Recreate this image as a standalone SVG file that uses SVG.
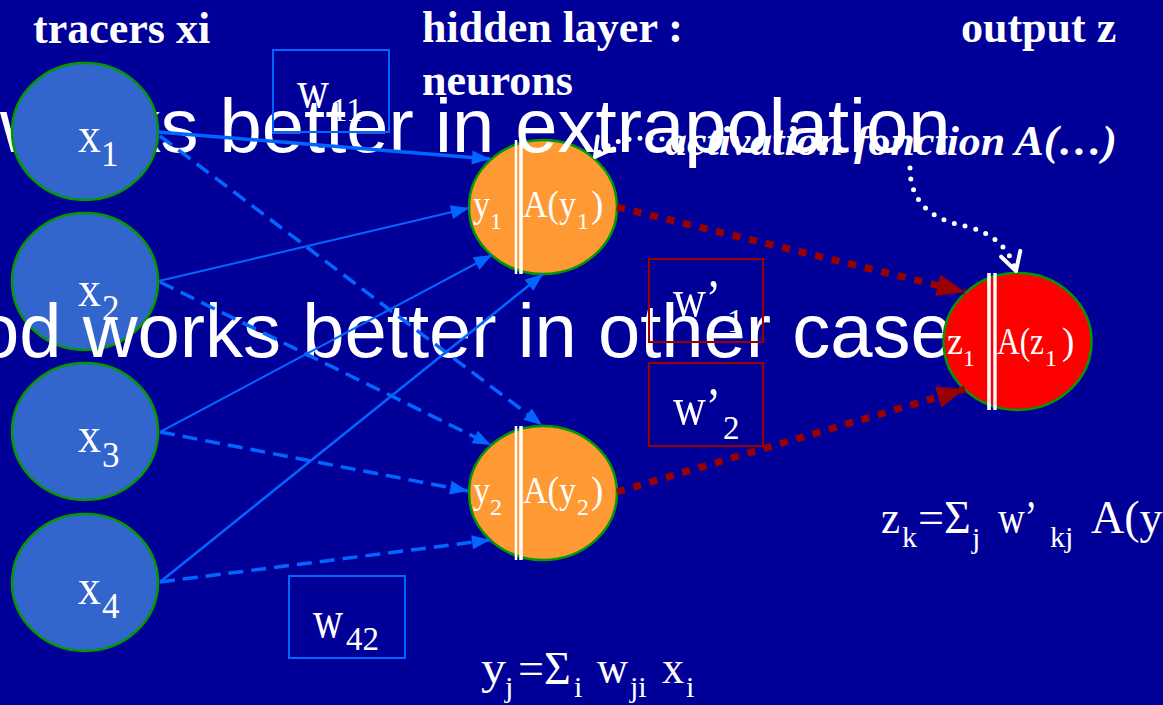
<svg xmlns="http://www.w3.org/2000/svg" width="1163" height="705" viewBox="0 0 1163 705">
<style>
.in{fill:#3366CC;stroke:#009900;stroke-width:2.5}
.hid{fill:#FF9933;stroke:#009900;stroke-width:2.5}
.out{fill:#FF0000;stroke:#009900;stroke-width:2.5}
.dbl{stroke:#FFFFFF;fill:none}
.serif{font-family:"Liberation Serif","Times New Roman",serif;fill:#FFFFFF}
.hdr{font-family:"Liberation Serif","Times New Roman",serif;font-weight:bold;font-size:44px;fill:#FFFFFF}
.big{font-family:"Liberation Sans",Arial,sans-serif;font-size:76px;fill:#FFFFFF}
.lx{font-size:51px}
.ls{font-size:35px}
.hm{font-size:37px}
.hs{font-size:24px}
.wm{font-size:52px}
.ws{font-size:33px}
.fm{font-size:46px}
.fs{font-size:30px}
.sol{stroke:#0066FF;fill:none;marker-end:url(#ab)}
.dash{stroke:#0066FF;fill:none;stroke-width:3.5;stroke-dasharray:15 8;marker-end:url(#ab)}
.red{stroke:#990000;fill:none;stroke-width:7;stroke-dasharray:8 9;marker-end:url(#ar)}
.dot{stroke:#FFFFFF;fill:none;stroke-width:5;stroke-linecap:round;stroke-dasharray:0 11;marker-end:url(#aw)}
.bb{fill:none;stroke:#0066FF;stroke-width:2}
.rb{fill:none;stroke:#990000;stroke-width:2}
</style>
<defs>
<marker id="ab" markerUnits="userSpaceOnUse" markerWidth="20" markerHeight="16" refX="18" refY="7" orient="auto" overflow="visible"><path d="M0,0 L18,7 L0,14 z" fill="#0066FF"/></marker>
<marker id="ar" markerUnits="userSpaceOnUse" markerWidth="30" markerHeight="24" refX="28" refY="11" orient="auto" overflow="visible"><path d="M0,0 L28,11 L0,22 z" fill="#990000"/></marker>
<marker id="aw" markerUnits="userSpaceOnUse" markerWidth="24" markerHeight="26" refX="19" refY="11" orient="auto" overflow="visible"><path d="M1,1 L19,11 L1,21" fill="none" stroke="#FFFFFF" stroke-width="4" stroke-linecap="round" stroke-linejoin="round"/></marker>
</defs>
<rect x="0" y="0" width="1163" height="705" fill="#000099"/>

<g id="node-y1">
<ellipse class="hid" cx="543" cy="207" rx="74" ry="67"/>
<line class="dbl" x1="516" y1="140" x2="516" y2="274" stroke-width="2.5"/>
<line class="dbl" x1="521" y1="140" x2="521" y2="274" stroke-width="3.5"/>
<text class="serif hm" x="473" y="217" textLength="17" lengthAdjust="spacingAndGlyphs">y</text><text class="serif hs" x="490" y="229">1</text>
<text class="serif hm" x="523" y="217" textLength="53" lengthAdjust="spacingAndGlyphs">A(y</text><text class="serif hs" x="577" y="229">1</text><text class="serif hm" x="591" y="217">)</text>
</g>
<g id="node-y2">
<ellipse class="hid" cx="543" cy="493" rx="74" ry="67"/>
<line class="dbl" x1="516" y1="426" x2="516" y2="560" stroke-width="2.5"/>
<line class="dbl" x1="521" y1="426" x2="521" y2="560" stroke-width="3.5"/>
<text class="serif hm" x="473" y="503" textLength="17" lengthAdjust="spacingAndGlyphs">y</text><text class="serif hs" x="490" y="515">2</text>
<text class="serif hm" x="523" y="503" textLength="53" lengthAdjust="spacingAndGlyphs">A(y</text><text class="serif hs" x="577" y="515">2</text><text class="serif hm" x="591" y="503">)</text>
</g>
<g id="node-x2">
<ellipse class="in" cx="85" cy="281.5" rx="73" ry="68.5"/>
<text class="serif lx" x="78" y="306" textLength="23" lengthAdjust="spacingAndGlyphs">x</text><text class="serif ls" x="102" y="320">2</text>
</g>
<g id="node-x3">
<ellipse class="in" cx="85" cy="431.5" rx="73" ry="68.5"/>
<text class="serif lx" x="78" y="452" textLength="23" lengthAdjust="spacingAndGlyphs">x</text><text class="serif ls" x="102" y="467">3</text>
</g>
<g id="node-x4">
<ellipse class="in" cx="85" cy="582.5" rx="73" ry="68.5"/>
<text class="serif lx" x="78" y="604" textLength="23" lengthAdjust="spacingAndGlyphs">x</text><text class="serif ls" x="102" y="618">4</text>
</g>

<text class="big" x="0" y="152">works better in extrapolation</text>
<text class="big" x="-23" y="357">od works better in other case</text>

<g id="node-x1">
<ellipse class="in" cx="85" cy="131.5" rx="73" ry="68.5"/>
<text class="serif lx" x="78" y="152" textLength="23" lengthAdjust="spacingAndGlyphs">x</text><text class="serif ls" x="101" y="166">1</text>
</g>
<g id="node-z1">
<ellipse class="out" cx="1017.5" cy="341.5" rx="74" ry="68.5"/>
<line class="dbl" x1="989" y1="273" x2="989" y2="410" stroke-width="3.6"/>
<line class="dbl" x1="995" y1="273" x2="995" y2="410" stroke-width="3.4"/>
<text class="serif hm" x="947" y="354" textLength="16" lengthAdjust="spacingAndGlyphs">z</text><text class="serif hs" x="963" y="366">1</text>
<text class="serif hm" x="997" y="354" textLength="47" lengthAdjust="spacingAndGlyphs">A(z</text><text class="serif hs" x="1045" y="366">1</text><text class="serif hm" x="1062" y="354">)</text>
</g>

<g id="connectors">
<line class="sol" x1="158" y1="132" x2="490" y2="159" stroke-width="3.5"/>
<line class="sol" x1="159" y1="281" x2="469" y2="208" stroke-width="2"/>
<line class="sol" x1="160" y1="432" x2="492" y2="255" stroke-width="2"/>
<line class="sol" x1="160" y1="582" x2="543" y2="274" stroke-width="2.5"/>
<line class="dash" x1="160" y1="136" x2="542" y2="425"/>
<line class="dash" x1="160" y1="282" x2="491" y2="445"/>
<line class="dash" x1="160" y1="432" x2="468" y2="491"/>
<line class="dash" x1="160" y1="582" x2="490" y2="540"/>
<line class="red" x1="617" y1="207" x2="965" y2="292"/>
<line class="red" x1="617" y1="492" x2="965" y2="389"/>
<path class="dot" d="M662,139 Q612,134 595,157"/>
<path class="dot" d="M910,168 C910,205 935,220 965,226 C990,232 1008,245 1016,271"/>
</g>

<g id="weights">
<rect class="bb" x="273" y="50" width="116" height="82"/>
<text class="serif wm" x="297" y="107" textLength="32" lengthAdjust="spacingAndGlyphs">w</text><text class="serif ws" x="331" y="121">11</text>
<rect class="bb" x="289" y="576" width="116" height="82"/>
<text class="serif wm" x="313" y="637" textLength="30" lengthAdjust="spacingAndGlyphs">w</text><text class="serif ws" x="346" y="650">42</text>
<rect class="rb" x="649" y="259" width="114" height="83"/>
<text class="serif wm" x="673" y="316" textLength="48" lengthAdjust="spacingAndGlyphs">w’</text><text class="serif ws" x="727" y="332">1</text>
<rect class="rb" x="649" y="363" width="114" height="83"/>
<text class="serif wm" x="673" y="424" textLength="48" lengthAdjust="spacingAndGlyphs">w’</text><text class="serif ws" x="723" y="439">2</text>
</g>

<g id="headers">
<text class="hdr" x="33" y="43">tracers xi</text>
<text class="hdr" x="422" y="42">hidden layer :</text>
<text class="hdr" x="422" y="95">neurons</text>
<text class="hdr" x="961" y="42">output z</text>
<text class="serif" x="665" y="155" font-size="42" font-weight="bold" font-style="italic" textLength="452" lengthAdjust="spacingAndGlyphs">activation fonction A(…)</text>
</g>

<g id="formulas">
<text class="serif fm" x="481" y="683" textLength="25" lengthAdjust="spacingAndGlyphs">y</text><text class="serif fs" x="505" y="697">j</text>
<text class="serif fm" x="518" y="684">=Σ</text><text class="serif fs" x="574" y="697">i</text>
<text class="serif fm" x="597" y="683" textLength="31" lengthAdjust="spacingAndGlyphs">w</text><text class="serif fs" x="630" y="697">ji</text>
<text class="serif fm" x="662" y="683" textLength="22" lengthAdjust="spacingAndGlyphs">x</text><text class="serif fs" x="686" y="697">i</text>
<text class="serif fm" x="881" y="533" textLength="19" lengthAdjust="spacingAndGlyphs">z</text><text class="serif fs" x="902" y="547">k</text>
<text class="serif fm" x="918" y="533">=Σ</text><text class="serif fs" x="972" y="548">j</text>
<text class="serif fm" x="998" y="533" textLength="39" lengthAdjust="spacingAndGlyphs">w’</text><text class="serif fs" x="1050" y="547">kj</text>
<text class="serif fm" x="1091" y="533">A(y</text>
</g>
</svg>
